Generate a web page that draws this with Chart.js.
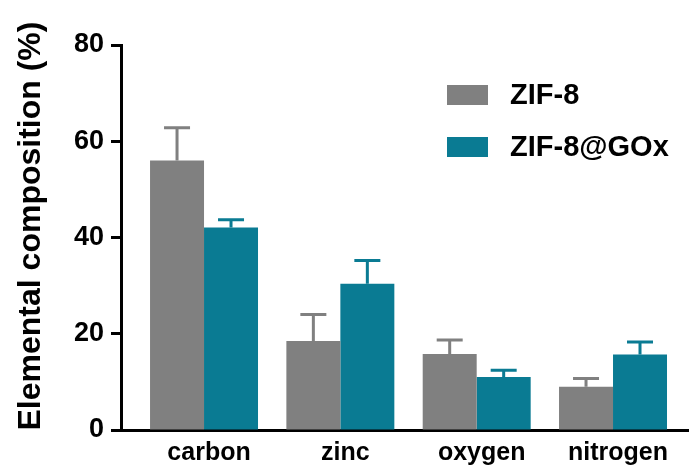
<!DOCTYPE html>
<html>
<head>
  <title>Elemental composition</title>
  <script src="https://cdn.jsdelivr.net/npm/chart.js"></script>
  <style>
    body { margin: 0; background: #fff; }
    canvas { display: block; }
  </style>
</head>
<body>
  <canvas id="chart" width="690" height="466"></canvas>

  <script>
    const categories = ["carbon", "zinc", "oxygen", "nitrogen"];
    const zif8 = [56.0, 18.5, 15.8, 9.0];
    const zif8Err = [6.8, 5.5, 2.9, 1.7];
    const zif8Gox = [42.1, 30.4, 11.0, 15.7];
    const zif8GoxErr = [1.6, 4.8, 1.4, 2.6];
    const yTicks = [0, 20, 40, 60, 80];
    const yTitle = "Elemental composition (%)";

    const FONT = 'Arial, "Liberation Sans", sans-serif';
    const GREY = "#808080";
    const TEAL = "#0a7b93";

    // upper error bars, same colour as the bar
    const errorBars = {
      id: "errorBars",
      afterDatasetsDraw(chart) {
        const { ctx } = chart;
        const y = chart.scales.y;
        chart.data.datasets.forEach((ds, i) => {
          const meta = chart.getDatasetMeta(i);
          meta.data.forEach((bar, j) => {
            const top = y.getPixelForValue(ds.data[j].y + ds.errors[j]);
            ctx.save();
            ctx.strokeStyle = ds.backgroundColor;
            ctx.lineWidth = 3;
            ctx.beginPath();
            ctx.moveTo(bar.x, bar.y);
            ctx.lineTo(bar.x, top);
            ctx.moveTo(bar.x - 13, top);
            ctx.lineTo(bar.x + 13, top);
            ctx.stroke();
            ctx.restore();
          });
        });
      }
    };

    // legend boxes + y title (title sits a bit above the axis centre in the original)
    const extras = {
      id: "extras",
      afterDraw(chart) {
        const { ctx } = chart;
        chart.data.datasets.forEach((ds, i) => {
          const cy = 95 + i * 52;
          ctx.save();
          ctx.fillStyle = ds.backgroundColor;
          ctx.fillRect(447, cy - 10, 41, 20);
          ctx.fillStyle = "#000";
          ctx.font = "bold 29px " + FONT;
          ctx.textBaseline = "middle";
          ctx.fillText(ds.label, 510, cy + 1);
          ctx.restore();
        });

        ctx.save();
        ctx.translate(31, 226);
        ctx.rotate(-Math.PI / 2);
        ctx.fillStyle = "#000";
        ctx.font = "bold 32px " + FONT;
        ctx.textAlign = "center";
        ctx.textBaseline = "middle";
        ctx.fillText(yTitle, 0, 0);
        ctx.restore();
      }
    };

    new Chart(document.getElementById("chart"), {
      type: "bar",
      data: {
        datasets: [
          {
            label: "ZIF-8",
            data: zif8.map((v, i) => ({ x: i, y: v })),
            errors: zif8Err,
            backgroundColor: GREY
          },
          {
            label: "ZIF-8@GOx",
            data: zif8Gox.map((v, i) => ({ x: i, y: v })),
            errors: zif8GoxErr,
            backgroundColor: TEAL
          }
        ]
      },
      options: {
        responsive: false,
        animation: false,
        devicePixelRatio: 1,
        categoryPercentage: 0.792,
        barPercentage: 1,
        layout: { padding: { top: 45, right: 2, bottom: 0, left: 0 } },
        plugins: {
          legend: { display: false },
          tooltip: { enabled: false }
        },
        scales: {
          x: {
            type: "linear",
            min: -0.609,
            max: 3.55,
            offset: false,
            grid: { display: false, drawTicks: false, offset: false },
            border: { display: true, color: "#000", width: 3 },
            afterBuildTicks: s => { s.ticks = categories.map((_, i) => ({ value: i })); },
            afterFit: s => { s.height = 36; },
            ticks: {
              autoSkip: false,
              maxRotation: 0,
              padding: 8,
              labelOffset: 5,
              color: "#000",
              font: { family: FONT, size: 25, weight: "bold" },
              callback: v => categories[v] ?? ""
            }
          },
          y: {
            min: 0,
            max: 80,
            afterBuildTicks: s => { s.ticks = yTicks.map(v => ({ value: v })); },
            afterFit: s => { s.width = 121; },
            grid: {
              drawOnChartArea: false,
              drawTicks: true,
              tickLength: 10,
              tickWidth: 3,
              color: "#000"
            },
            border: { display: true, color: "#000", width: 3 },
            ticks: {
              padding: 7,
              color: "#000",
              font: { family: FONT, size: 27, weight: "bold" }
            }
          }
        }
      },
      plugins: [errorBars, extras]
    });
  </script>
</body>
</html>
